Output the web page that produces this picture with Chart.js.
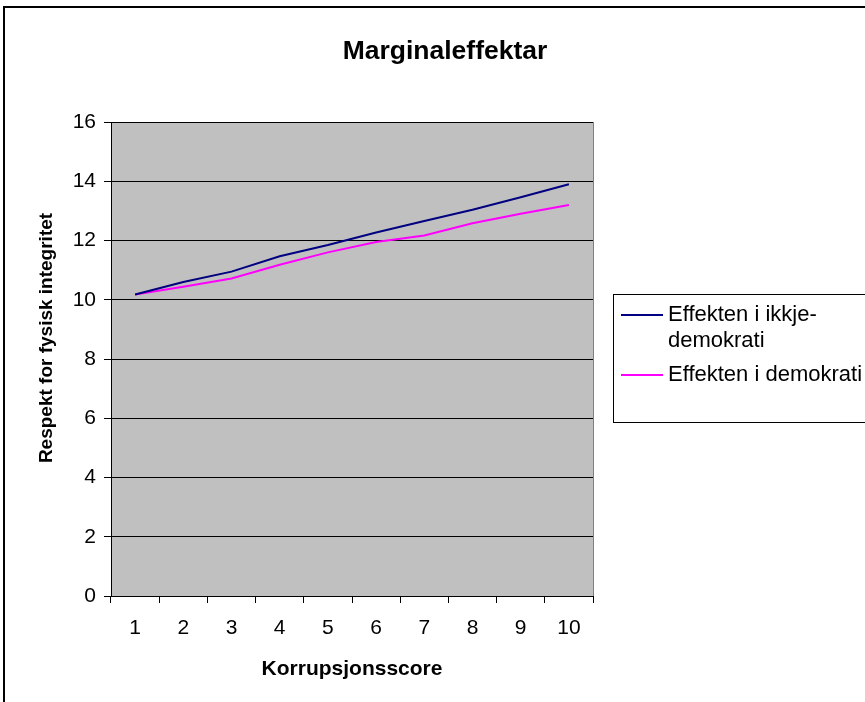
<!DOCTYPE html>
<html>
<head>
<meta charset="utf-8">
<script src="https://cdn.jsdelivr.net/npm/chart.js@4.4.1/dist/chart.umd.min.js"></script>
<style>
  html, body { margin: 0; padding: 0; background: #ffffff; }
  #wrap { width: 865px; height: 702px; }
</style>
</head>
<body>
<div id="wrap"><canvas id="c" width="865" height="702"></canvas></div>
<script>
// Korrupsjonsscore categories
const categories = ['1', '2', '3', '4', '5', '6', '7', '8', '9', '10'];
// Marginal effects per score
const ikkjeDemokrati = [10.18, 10.6, 10.95, 11.47, 11.85, 12.27, 12.66, 13.04, 13.46, 13.9];
const demokrati = [10.18, 10.44, 10.72, 11.18, 11.6, 11.95, 12.17, 12.58, 12.9, 13.2];
// Legend text, wrapped as it is laid out in the legend box
const legendLines = [['Effekten i ikkje-', 'demokrati'], ['Effekten i demokrati']];
const yTicks = [0, 2, 4, 6, 8, 10, 12, 14, 16];

const chartTitle = 'Marginaleffektar';
const xTitle = 'Korrupsjonsscore';
const yTitle = 'Respekt for fysisk integritet';

const FONT = '"Liberation Sans", Arial, Helvetica, sans-serif';

// Frame, plot background, titles and the boxed legend
const decorations = {
  id: 'decorations',
  beforeDraw(chart) {
    const ctx = chart.ctx;
    const a = chart.chartArea;
    ctx.save();
    ctx.fillStyle = '#ffffff';
    ctx.fillRect(0, 0, chart.width, chart.height);
    // outer chart frame
    ctx.strokeStyle = '#000000';
    ctx.lineWidth = 2;
    ctx.strokeRect(4, 7, 2000, 2000);
    // plot area
    ctx.fillStyle = '#c0c0c0';
    ctx.fillRect(a.left, a.top, a.right - a.left, a.bottom - a.top);
    ctx.strokeStyle = '#808080';
    ctx.lineWidth = 1;
    ctx.strokeRect(Math.round(a.left) + 0.5, Math.round(a.top) + 0.5,
                   Math.round(a.right - a.left), Math.round(a.bottom - a.top));
    ctx.restore();
  },
  afterDraw(chart) {
    const ctx = chart.ctx;
    const a = chart.chartArea;
    ctx.save();
    ctx.fillStyle = '#000000';
    // chart title
    ctx.font = 'bold 26.5px ' + FONT;
    ctx.textAlign = 'center';
    ctx.textBaseline = 'alphabetic';
    ctx.fillText(chartTitle, 445, 59);
    // x axis title
    ctx.font = 'bold 21px ' + FONT;
    ctx.fillText(xTitle, (a.left + a.right) / 2, 675);
    // y axis title
    ctx.save();
    ctx.translate(52, 338);
    ctx.rotate(-Math.PI / 2);
    ctx.font = 'bold 19px ' + FONT;
    ctx.fillText(yTitle, 0, 0);
    ctx.restore();

    // legend box
    const lx = 613, ly = 294;
    ctx.fillStyle = '#ffffff';
    ctx.fillRect(lx, ly, 400, 128);
    ctx.strokeStyle = '#000000';
    ctx.lineWidth = 1;
    ctx.strokeRect(lx + 0.5, ly + 0.5, 400, 128);
    ctx.font = '22px ' + FONT;
    ctx.textAlign = 'left';
    ctx.textBaseline = 'middle';
    let y = 315;
    chart.data.datasets.forEach((ds, i) => {
      ctx.strokeStyle = ds.borderColor;
      ctx.lineWidth = 2;
      ctx.beginPath();
      ctx.moveTo(621, y);
      ctx.lineTo(663, y);
      ctx.stroke();
      ctx.fillStyle = '#000000';
      legendLines[i].forEach((line, j) => {
        ctx.fillText(line, 668, y + j * 26);
      });
      y += legendLines[i].length * 26 + 8;
    });
    ctx.restore();
  }
};

new Chart(document.getElementById('c'), {
  type: 'line',
  data: {
    labels: categories,
    datasets: [
      {
        label: legendLines[0].join(''),
        data: ikkjeDemokrati,
        borderColor: '#000080',
        borderWidth: 2,
        pointRadius: 0,
        tension: 0,
        fill: false
      },
      {
        label: legendLines[1].join(''),
        data: demokrati,
        borderColor: '#ff00ff',
        borderWidth: 2,
        pointRadius: 0,
        tension: 0,
        fill: false
      }
    ]
  },
  options: {
    responsive: false,
    animation: false,
    devicePixelRatio: 1,
    layout: { padding: { left: 0, top: 122, right: 272, bottom: 0 } },
    plugins: {
      legend: { display: false },
      title: { display: false },
      tooltip: { enabled: false }
    },
    scales: {
      x: {
        type: 'category',
        offset: true,
        grid: {
          offset: true,
          drawOnChartArea: false,
          drawTicks: true,
          tickLength: 7,
          color: '#000000'
        },
        border: { color: '#000000', width: 1 },
        ticks: {
          color: '#000000',
          font: { family: FONT, size: 21 },
          padding: 13,
          maxRotation: 0,
          autoSkip: false
        },
        afterFit(scale) { scale.height = 106; }
      },
      y: {
        min: 0,
        max: 16,
        afterBuildTicks(scale) { scale.ticks = yTicks.map(v => ({ value: v })); },
        grid: {
          drawOnChartArea: true,
          drawTicks: true,
          tickLength: 7,
          color: '#000000',
          lineWidth: 1
        },
        border: { color: '#000000', width: 1 },
        ticks: {
          color: '#000000',
          font: { family: FONT, size: 21 },
          padding: 8
        },
        afterFit(scale) { scale.width = 111; }
      }
    }
  },
  plugins: [decorations]
});
</script>
</body>
</html>
